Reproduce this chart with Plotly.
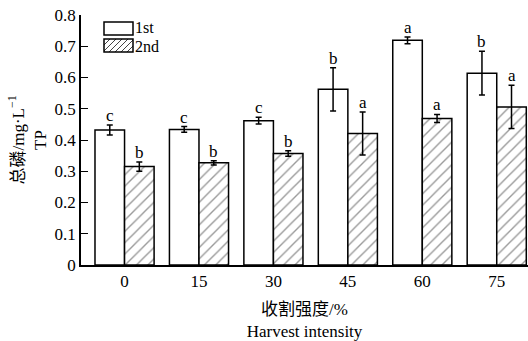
import plotly.graph_objects as go

categories = ["0", "15", "30", "45", "60", "75"]
first_vals = [0.432, 0.434, 0.462, 0.562, 0.719, 0.614]
first_err = [0.016, 0.009, 0.011, 0.069, 0.011, 0.070]
first_letters = ["c", "c", "c", "b", "a", "b"]
second_vals = [0.315, 0.327, 0.357, 0.421, 0.469, 0.506]
second_err = [0.015, 0.007, 0.009, 0.069, 0.013, 0.069]
second_letters = ["b", "b", "b", "a", "a", "a"]
series_names = ["1st", "2nd"]

SERIF = "Liberation Serif, Noto Sans CJK SC, serif"
W = 0.397
xs = list(range(len(categories)))

# plot-area geometry in pixels (for the hand-drawn legend)
L, R, T, B = 81, 528, 15, 265
def px(x):
    return (x - L) / (R - L)
def py(y):
    return (B - y) / (B - T)

fig = go.Figure()
fig.add_trace(go.Bar(
    x=xs, y=first_vals, name=series_names[0], width=W, offset=-W, showlegend=False,
    marker=dict(color="white", line=dict(color="black", width=1.5)),
    error_y=dict(type="data", array=first_err, color="black", thickness=1.5, width=3),
))
fig.add_trace(go.Bar(
    x=xs, y=second_vals, name=series_names[1], width=W, offset=0, showlegend=False,
    marker=dict(color="white", line=dict(color="black", width=1.5),
                pattern=dict(shape="/", size=8, solidity=0.17, fgcolor="#333333", bgcolor="white")),
    error_y=dict(type="data", array=second_err, color="black", thickness=1.5, width=3),
))

for i in xs:
    fig.add_annotation(x=i - W / 2, y=first_vals[i] + first_err[i], text=first_letters[i],
                       showarrow=False, yanchor="bottom", yshift=-2,
                       font=dict(family=SERIF, size=17, color="black"))
    fig.add_annotation(x=i + W / 2, y=second_vals[i] + second_err[i], text=second_letters[i],
                       showarrow=False, yanchor="bottom", yshift=-2,
                       font=dict(family=SERIF, size=17, color="black"))

# legend (drawn by hand so the swatches are wide rectangles)
shapes = []
boxes = [(104, 22, 133, 35), (104, 39, 133, 52)]
text_shift = [1, -1]
for k, (x0, y0, x1, y1) in enumerate(boxes):
    if k == 1:
        step = 6
        c = x0 - (y1 - y0)
        while c < x1:
            h = y1 - y0
            sx, sy = c, y1
            ex, ey = c + h, y0
            if sx < x0:
                sy = y1 - (x0 - c)
                sx = x0
            if ex > x1:
                ey = y1 - (x1 - c)
                ex = x1
            if ex > sx:
                shapes.append(dict(type="line", xref="paper", yref="paper",
                                   x0=px(sx), y0=py(sy), x1=px(ex), y1=py(ey),
                                   line=dict(color="#444444", width=1)))
            c += step
    shapes.append(dict(type="rect", xref="paper", yref="paper",
                       x0=px(x0), y0=py(y0), x1=px(x1), y1=py(y1),
                       line=dict(color="black", width=1.5), fillcolor="rgba(0,0,0,0)"))
    fig.add_annotation(xref="paper", yref="paper", x=px(x1 + 1), y=py((y0 + y1) / 2),
                       text=series_names[k], showarrow=False, xanchor="left", yanchor="middle",
                       yshift=text_shift[k], borderpad=0,
                       font=dict(family=SERIF, size=16, color="black"))

fig.update_layout(
    width=528, height=341,
    margin=dict(l=81, r=0, t=15, b=76),
    paper_bgcolor="white", plot_bgcolor="white",
    barmode="overlay",
    font=dict(family=SERIF, size=17, color="black"),
    shapes=shapes,
    xaxis=dict(range=[-0.585, 5.42], tickvals=xs, ticktext=categories, showline=True,
               linecolor="black", linewidth=1.5, ticks="", showgrid=False, zeroline=False,
               title=dict(text="收割强度/%<br>Harvest intensity", font=dict(family=SERIF, size=17), standoff=16),
               tickfont=dict(family=SERIF, size=17)),
    yaxis=dict(range=[0, 0.8], tickvals=[0, 0.1, 0.2, 0.3, 0.4, 0.5, 0.6, 0.7, 0.8],
               ticktext=["0", "0.1", "0.2", "0.3", "0.4", "0.5", "0.6", "0.7", "0.8"],
               showline=True, linecolor="black", linewidth=1.5, ticks="inside", ticklen=7,
               tickcolor="black", showgrid=False, zeroline=False,
               title=dict(text="总磷/mg·L<sup>−1</sup><br>TP", font=dict(family=SERIF, size=17), standoff=4),
               tickfont=dict(family=SERIF, size=17)),
)

fig.write_html("out.html")
